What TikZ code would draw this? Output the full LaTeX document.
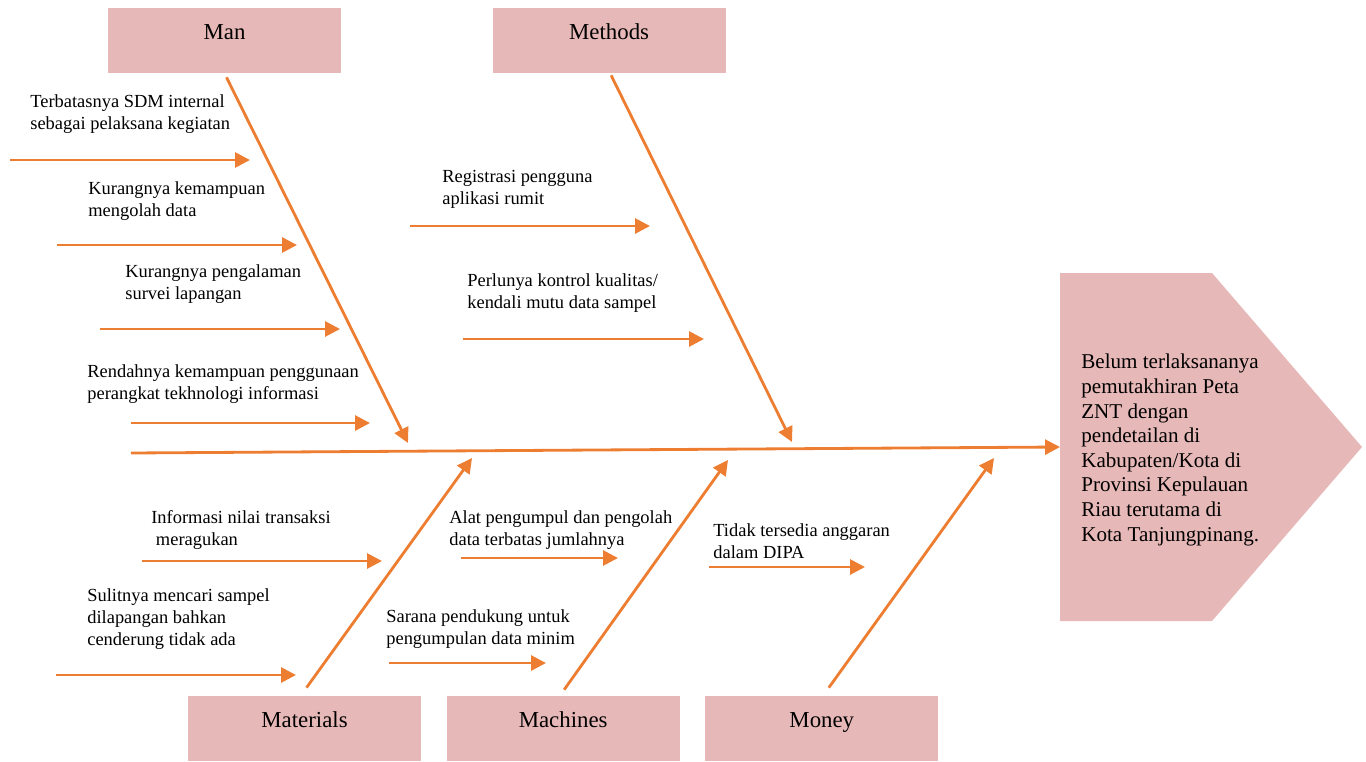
\documentclass[tikz,border=0pt]{standalone}
\usepackage{fontspec}
\setmainfont{Liberation Serif}
\usetikzlibrary{positioning,arrows.meta}

\definecolor{bone}{HTML}{ED7D31}
\definecolor{boxpink}{HTML}{E6B8B7}

\tikzset{
    cause/.style={fill=boxpink, rectangle, minimum width=4.66cm, minimum height=1.3cm, inner sep=0pt,
        text height=10pt, text depth=11pt, font=\fontsize{13}{15}\selectfont},
    note/.style={anchor=north west, inner sep=0pt, align=left, font=\fontsize{10.5}{12.5}\selectfont},
    arr/.style={draw=bone, color=bone, line width=1.6pt, -{Triangle[length=8.5pt,width=8.5pt]}}
}

\begin{document}
\begin{tikzpicture}[x=0.02cm, y=-0.02cm]
    \useasboundingbox (0,0) rectangle (1366,761);

    % Kategori atas
    \node [cause] (man) at (224.5,40.5) {Man};
    \node [cause, right=3.02cm of man] (methods) {Methods};

    % Kategori bawah
    \node [cause] (materials) at (304.5,728.5) {Materials};
    \node [cause, right=0.5cm of materials] (machines) {Machines};
    \node [cause, right=0.5cm of machines] (money) {Money};

    % Kepala ikan (masalah)
    \coordinate (head) at (1060,447);
    \fill [boxpink] (1060,273) -- (1212,273) -- (1362,447) -- (1212,621) -- (1060,621) -- cycle;
    \node [note, font=\fontsize{12}{14}\selectfont] (problem) at (1081,354)
        {Belum terlaksananya\\pemutakhiran Peta\\ZNT dengan\\pendetailan di\\Kabupaten/Kota di\\Provinsi Kepulauan\\Riau terutama di\\Kota Tanjungpinang.};

    % Tulang utama
    \coordinate (tail) at (131,453);
    \draw [arr] (tail) -- (head);

    % Tulang kategori
    \coordinate (manend) at (408,443);
    \coordinate (methodsend) at (792,442);
    \coordinate (materialsend) at (472,458);
    \coordinate (machinesend) at (728,460);
    \coordinate (moneyend) at (994,458);
    \draw [arr] ([shift={(2,4)}]man.south) -- (manend);
    \draw [arr] ([shift={(2,2)}]methods.south) -- (methodsend);
    \draw [arr] ([shift={(2,-8)}]materials.north) -- (materialsend);
    \draw [arr] ([shift={(1,-6)}]machines.north) -- (machinesend);
    \draw [arr] ([shift={(7,-8)}]money.north) -- (moneyend);

    % Penyebab - Man
    \node [note] (sdm) at (30,94) {Terbatasnya SDM internal\\sebagai pelaksana kegiatan};
    \coordinate (s1) at (10,160); \coordinate (e1) at (250,160);
    \draw [arr] (s1) -- (e1);
    \node [note] (olah) at (88,181) {Kurangnya kemampuan\\mengolah data};
    \coordinate (s2) at (57,245); \coordinate (e2) at (297,245);
    \draw [arr] (s2) -- (e2);
    \node [note] (survei) at (125,264) {Kurangnya pengalaman\\survei lapangan};
    \coordinate (s3) at (100,329); \coordinate (e3) at (340,329);
    \draw [arr] (s3) -- (e3);
    \node [note] (tekno) at (87,364) {Rendahnya kemampuan penggunaan\\perangkat tekhnologi informasi};
    \coordinate (s4) at (131,423); \coordinate (e4) at (370,423);
    \draw [arr] (s4) -- (e4);

    % Penyebab - Methods
    \node [note] (registrasi) at (442,170) {Registrasi pengguna\\aplikasi rumit};
    \coordinate (s5) at (410,226); \coordinate (e5) at (650,226);
    \draw [arr] (s5) -- (e5);
    \node [note] (kontrol) at (467,273) {Perlunya kontrol kualitas/\\kendali mutu data sampel};
    \coordinate (s6) at (463,339); \coordinate (e6) at (704,339);
    \draw [arr] (s6) -- (e6);

    % Penyebab - Materials
    \node [note] (transaksi) at (151,510) {Informasi nilai transaksi\\~meragukan};
    \coordinate (s7) at (142,561); \coordinate (e7) at (382,561);
    \draw [arr] (s7) -- (e7);
    \node [note] (sampel) at (87,588) {Sulitnya mencari sampel\\dilapangan bahkan\\cenderung tidak ada};
    \coordinate (s8) at (56,675); \coordinate (e8) at (296,675);
    \draw [arr] (s8) -- (e8);

    % Penyebab - Machines
    \node [note] (alat) at (449,510) {Alat pengumpul dan pengolah\\data terbatas jumlahnya};
    \coordinate (s9) at (461,558); \coordinate (e9) at (618,558);
    \draw [arr] (s9) -- (e9);
    \node [note] (sarana) at (386,609) {Sarana pendukung untuk\\pengumpulan data minim};
    \coordinate (s10) at (389,663); \coordinate (e10) at (546,663);
    \draw [arr] (s10) -- (e10);

    % Penyebab - Money
    \node [note] (anggaran) at (713,523) {Tidak tersedia anggaran\\dalam DIPA};
    \coordinate (s11) at (709,567); \coordinate (e11) at (865,567);
    \draw [arr] (s11) -- (e11);

\end{tikzpicture}
\end{document}
